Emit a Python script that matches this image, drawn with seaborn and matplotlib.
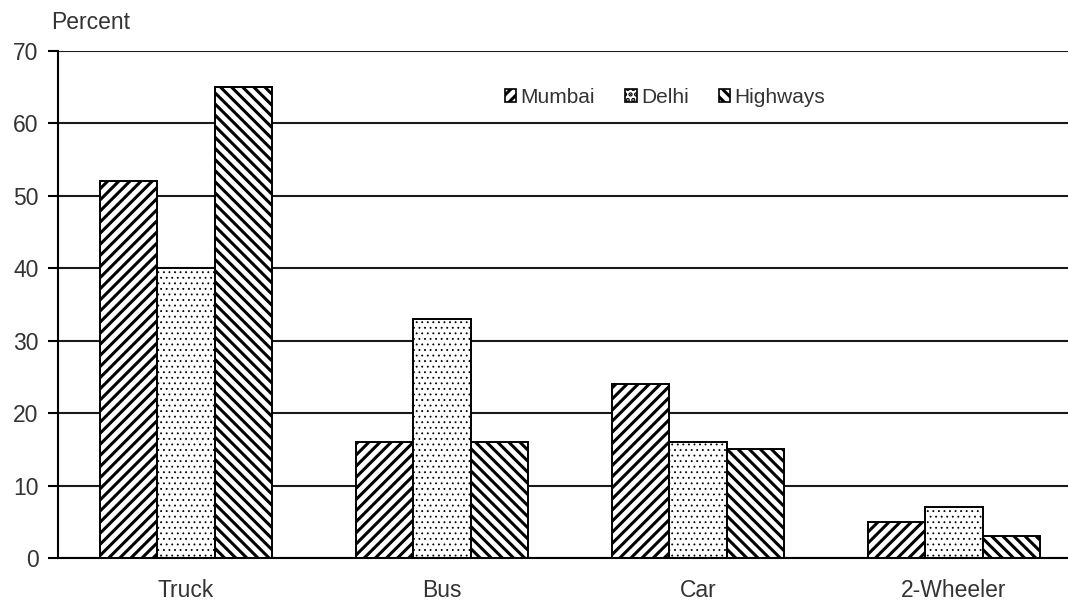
import numpy as np
import pandas as pd
import matplotlib
matplotlib.use('Agg')
import matplotlib.pyplot as plt
import seaborn as sns
from matplotlib.patches import Patch

# data
vehicles = ['Truck', 'Bus', 'Car', '2-Wheeler']
regions = ['Mumbai', 'Delhi', 'Highways']
mumbai = [52, 16, 24, 5]
delhi = [40, 33, 16, 7]
highways = [65, 16, 15, 3]
yticks = [0, 10, 20, 30, 40, 50, 60, 70]

df = pd.DataFrame({
    'vehicle': vehicles * 3,
    'region': [r for r in regions for _ in vehicles],
    'pct': mumbai + delhi + highways,
})

sns.set_style('white')
plt.rcParams['font.family'] = ['Liberation Sans', 'DejaVu Sans']
plt.rcParams['hatch.linewidth'] = 2.2

hatches = {'Mumbai': '///', 'Delhi': '...', 'Highways': '\\\\\\'}

fig = plt.figure(figsize=(10.68, 6.11), dpi=100)
ax = fig.add_axes([0.0543, 0.0867, 0.9457, 0.8298])

sns.barplot(data=df, x='vehicle', y='pct', hue='region', hue_order=regions,
            order=vehicles, palette=['white'] * 3, edgecolor='black',
            linewidth=1.4, width=0.67, gap=0, saturation=1, legend=False, ax=ax)

for cont, reg in zip(ax.containers, regions):
    for bar in cont:
        bar.set_hatch(hatches[reg])
        if reg == 'Delhi':
            if hasattr(bar, 'set_hatch_linewidth'):
                bar.set_hatch_linewidth(0.6)
            bar.set_edgecolor('black')

ax.set_xlim(-0.5, 3.445)
ax.set_ylim(0, 70)
ax.set_yticks(yticks)
ax.yaxis.grid(True, color='#1a1a1a', linewidth=1.5)
ax.set_axisbelow(True)
ax.set_xlabel('')
ax.set_ylabel('')

for s in ['top', 'right']:
    ax.spines[s].set_visible(False)
for s in ['left', 'bottom']:
    ax.spines[s].set_color('black')
    ax.spines[s].set_linewidth(1.5)

ax.tick_params(axis='y', left=True, length=7, width=1.5, color='black',
               pad=7, labelsize=16.5, labelcolor='#333')
ax.tick_params(axis='x', bottom=False, length=0, pad=15, labelsize=16.5,
               labelcolor='#333')

ax.text(-0.007, 1.043, 'Percent', transform=ax.transAxes, fontsize=16.5,
        color='#333', ha='left', va='baseline')

handles = [Patch(facecolor='white', edgecolor='black', hatch=hatches[r],
                 linewidth=1.2, label=r) for r in regions]
ax.legend(handles=handles, loc='center', bbox_to_anchor=(0.601, 0.909),
          ncol=3, frameon=False, fontsize=15, handlelength=0.55,
          handleheight=0.55, handletextpad=0.2, columnspacing=1.45,
          labelcolor='#333')

fig.savefig('out.png', dpi=100)
